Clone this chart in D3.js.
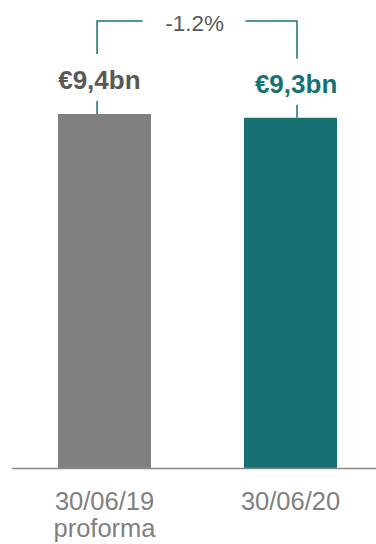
<!DOCTYPE html>
<html>
<head>
<meta charset="utf-8">
<script src="https://cdn.jsdelivr.net/npm/d3@7"></script>
<style>
  html, body { margin: 0; padding: 0; background: #fff; }
  svg { display: block; font-family: "Liberation Sans", Arial, sans-serif; }
</style>
</head>
<body>
<svg id="chart" width="376" height="544"></svg>
<script>
// data
const categories = ['30/06/19', '30/06/20'];
const categoryLines = [['30/06/19', 'proforma'], ['30/06/20']];
const values = [9.4, 9.3];
const valueLabels = ['€9,4bn', '€9,3bn'];
const changeLabel = '-1.2%';

const grey = '#808080';
const teal = '#177173';
const darkText = '#595959';
const barColors = [grey, teal];
const labelColors = [darkText, teal];

let svg = d3.select('#chart');
let width = 376;

let x = d3.scaleBand()
  .domain(categories)
  .range([11.5, 383.5])
  .paddingInner(0.5)
  .paddingOuter(0.25);

let y = d3.scaleLinear()
  .domain([0, 9.4])
  .range([468, 114]);

// bars
svg.append('g')
  .selectAll('rect').data(values).enter().append('rect')
  .attr('x', (d, i) => x(categories[i]))
  .attr('y', d => y(d))
  .attr('width', x.bandwidth())
  .attr('height', d => y(0) - y(d))
  .attr('fill', (d, i) => barColors[i]);

// baseline axis
let xAxis = d3.axisBottom(x).tickSize(0).tickSizeOuter(0);
let axisG = svg.append('g')
  .attr('transform', `translate(0,${y(0)})`)
  .call(xAxis);
axisG.select('.domain').attr('stroke', '#8a8a8a').attr('stroke-width', 1.6);
axisG.selectAll('.tick text').remove();
axisG.selectAll('.tick').each(function(d, i) {
  let t = d3.select(this).append('text')
    .attr('fill', grey)
    .attr('font-size', 25.5)
    .attr('text-anchor', 'middle');
  categoryLines[i].forEach((line, j) => {
    t.append('tspan').attr('x', 0).attr('y', 42 + j * 27).text(line);
  });
});

// value labels
let offs = [0.42, 0.57];
svg.append('g')
  .selectAll('text').data(values).enter().append('text')
  .attr('x', (d, i) => x(categories[i]) + x.bandwidth() * [0.445, 0.56][i])
  .attr('y', d => y(d) - 25)
  .attr('text-anchor', 'middle')
  .attr('font-size', 26)
  .attr('font-weight', 'bold')
  .attr('fill', (d, i) => labelColors[i])
  .text((d, i) => valueLabels[i]);

// change bracket
let bx = values.map((d, i) => x(categories[i]) + x.bandwidth() * offs[i]);
let topY = 21;
let midX = (bx[0] + bx[1]) / 2 - 2.5;
let gap = 52;
let br = svg.append('g')
  .attr('fill', 'none')
  .attr('stroke', teal)
  .attr('stroke-width', 1.5);

br.append('path')
  .attr('d', `M${bx[0]},${y(values[0]) - 60}V${topY}H${midX - gap}`);
br.append('path')
  .attr('d', `M${midX + gap - 1},${topY}H${bx[1]}V${y(values[1]) - 59}`);
values.forEach((d, i) => {
  br.append('line')
    .attr('x1', bx[i]).attr('x2', bx[i])
    .attr('y1', y(d) - 13).attr('y2', y(d));
});

svg.append('text')
  .attr('x', midX)
  .attr('y', 30.5)
  .attr('text-anchor', 'middle')
  .attr('font-size', 22.5)
  .attr('fill', darkText)
  .text(changeLabel);
</script>
</body>
</html>
